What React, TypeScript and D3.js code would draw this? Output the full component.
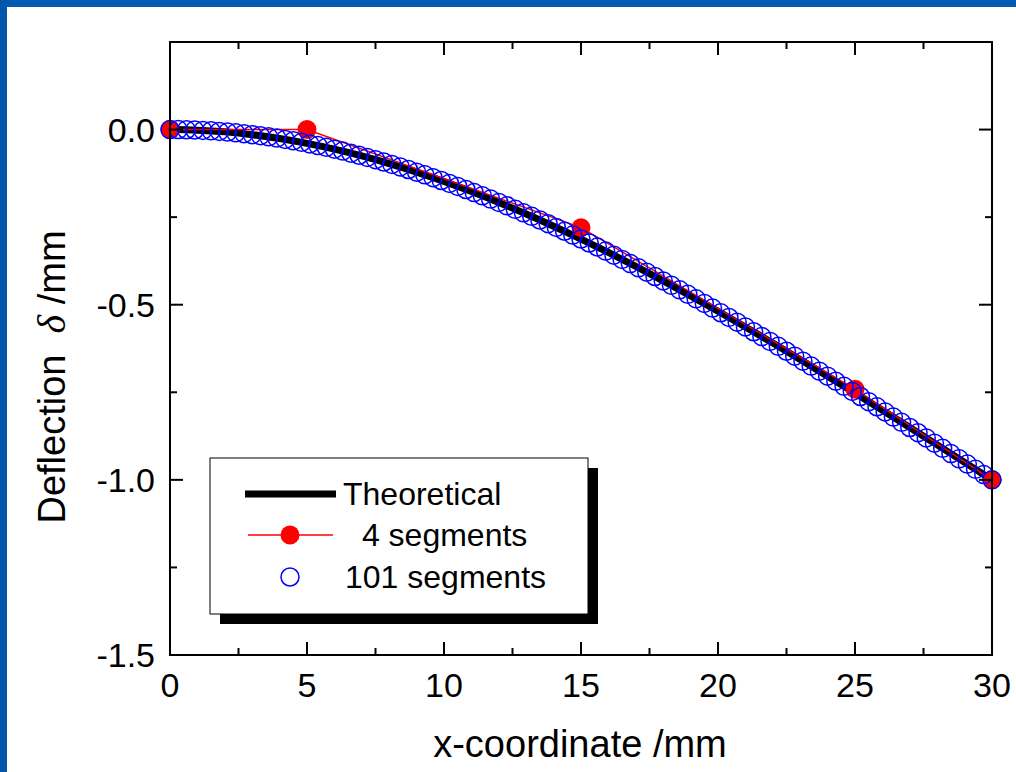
import React from 'react'
import * as d3 from 'd3'

// x positions (mm)
const theoryX = d3.range(0, 31, 1)
// theoretical deflection read every 1 mm
const theoryY = [
  0, -0.0017, -0.0065, -0.0145, -0.0255, -0.0394, -0.056, -0.0753, -0.0972, -0.1215,
  -0.1482, -0.177, -0.208, -0.241, -0.2759, -0.3125, -0.3508, -0.3907, -0.432, -0.4747,
  -0.5185, -0.5635, -0.6095, -0.6564, -0.704, -0.7523, -0.8012, -0.8505, -0.9002, -0.95, -1.0
]

// 4 segments FE result
const seg4X = [0, 5, 15, 25, 30]
const seg4Y = [0, 0.0, -0.28, -0.741, -1.0]

// 101 segments FE result, every 0.3 mm
const seg101X = d3.range(0, 101).map(i => i * 0.3)
const seg101Y = [
  0, -0.0001, -0.0006, -0.0013, -0.0024, -0.0037, -0.0053, -0.0072, -0.0093, -0.0118,
  -0.0145, -0.0175, -0.0207, -0.0243, -0.028, -0.0321, -0.0364, -0.0409, -0.0457, -0.0507,
  -0.056, -0.0615, -0.0673, -0.0733, -0.0795, -0.0859, -0.0926, -0.0995, -0.1066, -0.114,
  -0.1215, -0.1293, -0.1372, -0.1454, -0.1537, -0.1623, -0.1711, -0.18, -0.1892, -0.1985,
  -0.208, -0.2177, -0.2276, -0.2376, -0.2478, -0.2582, -0.2687, -0.2794, -0.2903, -0.3013,
  -0.3125, -0.3238, -0.3353, -0.3469, -0.3587, -0.3706, -0.3826, -0.3948, -0.407, -0.4195,
  -0.432, -0.4447, -0.4574, -0.4703, -0.4833, -0.4964, -0.5097, -0.523, -0.5364, -0.5499,
  -0.5635, -0.5772, -0.591, -0.6048, -0.6188, -0.6328, -0.6469, -0.6611, -0.6753, -0.6896,
  -0.704, -0.7184, -0.7329, -0.7475, -0.762, -0.7767, -0.7914, -0.8061, -0.8209, -0.8357,
  -0.8505, -0.8654, -0.8803, -0.8952, -0.9101, -0.9251, -0.94, -0.955, -0.97, -0.985, -1.0
]

const xMajor = [0, 5, 10, 15, 20, 25, 30]
const xMinor = [2.5, 7.5, 12.5, 17.5, 22.5, 27.5]
const yMajor = [0, -0.5, -1.0, -1.5]
const yMinor = [0.25, -0.25, -0.75, -1.25]

const legendLabels = ['Theoretical', ' 4 segments', '101 segments']

const W = 1016
const H = 772
const FONT = "'Liberation Sans', Arial, sans-serif"

export default function App() {
  const left = 170, right = 992, top = 42, bottom = 655
  const x = d3.scaleLinear().domain([0, 30]).range([left, right])
  const y = d3.scaleLinear().domain([-1.5, 0.25]).range([bottom, top])

  const theoryLine = d3.line<number>().x((d, i) => x(theoryX[i])).y(d => y(d)).curve(d3.curveMonotoneX)
  const seg4Line = d3.line<number>().x((d, i) => x(seg4X[i])).y(d => y(d))

  const majLen = 13, minLen = 7

  const ticks: JSX.Element[] = []
  xMajor.concat(xMinor).forEach((v, i) => {
    const len = i < xMajor.length ? majLen : minLen
    ticks.push(<line key={'xb' + i} x1={x(v)} x2={x(v)} y1={bottom} y2={bottom - len} />)
    ticks.push(<line key={'xt' + i} x1={x(v)} x2={x(v)} y1={top} y2={top + len} />)
  })
  yMajor.concat(yMinor).forEach((v, i) => {
    const len = i < yMajor.length ? majLen : minLen
    ticks.push(<line key={'yl' + i} x1={left} x2={left + len} y1={y(v)} y2={y(v)} />)
    ticks.push(<line key={'yr' + i} x1={right} x2={right - len} y1={y(v)} y2={y(v)} />)
  })

  const lg = { x: 210, y: 458, w: 378, h: 156 }

  return (
    <svg width={W} height={H} style={{ position: 'absolute', left: 0, top: 0, background: '#fff' }} fontFamily={FONT}>
      <rect x={0} y={0} width={W} height={H} fill="#fff" />
      {/* slide frame */}
      <rect x={0} y={0} width={W} height={7} fill="#0059b2" />
      <rect x={0} y={0} width={7} height={H} fill="#0056aa" />

      {/* data */}
      <path d={theoryLine(theoryY) || ''} fill="none" stroke="#000" strokeWidth={7} />
      <path d={seg4Line(seg4Y) || ''} fill="none" stroke="#ff0000" strokeWidth={1.5} />
      {seg4Y.map((v, i) => (
        <circle key={'r' + i} cx={x(seg4X[i])} cy={y(v)} r={9.5} fill="#ff0000" />
      ))}
      {seg101Y.map((v, i) => (
        <circle key={'b' + i} cx={x(seg101X[i])} cy={y(v)} r={9} fill="none" stroke="#0000ff" strokeWidth={1.5} />
      ))}

      {/* axes frame */}
      <rect x={left} y={top} width={right - left} height={bottom - top} fill="none" stroke="#000" strokeWidth={2} />
      <g stroke="#000" strokeWidth={2}>{ticks}</g>

      {xMajor.map(v => (
        <text key={'xl' + v} x={x(v)} y={697} fontSize={34} textAnchor="middle">{v}</text>
      ))}
      {yMajor.map(v => (
        <text key={'yl' + v} x={155} y={y(v) + 12} fontSize={34} textAnchor="end">{d3.format('.1f')(v).replace('−', '-')}</text>
      ))}

      <text x={580} y={757} fontSize={38} textAnchor="middle">x-coordinate /mm</text>
      <text transform={`translate(65,377) rotate(-90)`} fontSize={38} textAnchor="middle" style={{ whiteSpace: 'pre' }}>
        {'Deflection  '}<tspan fontFamily="'Liberation Serif', 'Times New Roman', serif" fontStyle="italic" fontSize={40}>δ</tspan>{' /mm'}
      </text>

      {/* legend */}
      <rect x={lg.x + 10} y={lg.y + 10} width={lg.w} height={lg.h} fill="#000" />
      <rect x={lg.x} y={lg.y} width={lg.w} height={lg.h} fill="#fff" stroke="#000" strokeWidth={1} />
      <line x1={245} x2={336} y1={494} y2={494} stroke="#000" strokeWidth={7} />
      <line x1={248} x2={333} y1={535} y2={535} stroke="#ff0000" strokeWidth={1.5} />
      <circle cx={290} cy={535} r={9.5} fill="#ff0000" />
      <circle cx={290} cy={577} r={9} fill="none" stroke="#0000ff" strokeWidth={1.5} />
      <text x={343} y={505} fontSize={32}>{legendLabels[0]}</text>
      <text x={353} y={546} fontSize={32} style={{ whiteSpace: 'pre' }}>{legendLabels[1]}</text>
      <text x={345} y={588} fontSize={32}>{legendLabels[2]}</text>
    </svg>
  )
}
